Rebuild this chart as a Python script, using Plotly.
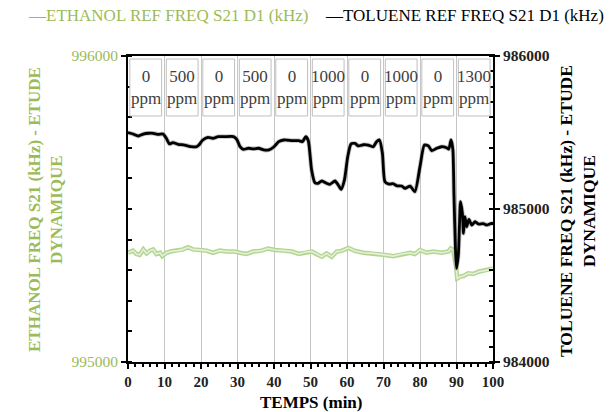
import plotly.graph_objects as go

# Concentration steps (one per 10-minute window)
conc_labels = ["0", "500", "0", "500", "0", "1000", "0", "1000", "0", "1300"]

# Toluene reference frequency S21 D1 (kHz) vs time (min)
tol_t = [0, 1.4, 2.8, 4.2, 5.6, 6.9, 8.3, 9.6, 10.5, 11.4, 12.3, 13.7, 15.5, 17.4, 18.8,
         19.4, 20.5, 21.9, 23.3, 24.7, 26.6, 28.9, 29.8, 30.7, 31.6, 33.0, 34.4, 35.8, 37.2,
         38.6, 40.0, 41.3, 42.7, 45.0, 46.8, 47.8, 48.7, 49.4, 50.3, 51.2, 52.1, 53.1, 54.4,
         55.3, 56.7, 57.6, 58.4, 59.3, 60.2, 61.1, 62.2, 63.1, 64.5, 65.8, 67.2, 68.1, 68.9,
         69.7, 70.4, 71.5, 72.7, 73.6, 75.0, 75.9, 77.3, 78.6, 80.0, 81.2, 82.3, 83.2, 84.6,
         85.9, 87.3, 87.9, 88.5, 89.0, 89.3, 89.7, 90.0, 90.5, 90.8, 91.1, 91.6, 91.9, 92.3,
         92.8, 93.4, 94.2, 95.1, 96.0, 97.3, 98.3, 99.6, 100]
tol_v = [985499, 985490, 985477, 985490, 985495, 985495, 985488, 985490, 985462, 985425,
         985434, 985423, 985418, 985407, 985407, 985418, 985451, 985468, 985462, 985473,
         985473, 985473, 985455, 985407, 985390, 985397, 985393, 985397, 985386, 985386,
         985407, 985440, 985451, 985447, 985447, 985440, 985473, 985446, 985255, 985172,
         985168, 985183, 985168, 985161, 985183, 985157, 985129, 985190, 985342, 985425,
         985429, 985412, 985420, 985418, 985407, 985440, 985451, 985364, 985178, 985163,
         985165, 985152, 985150, 985135, 985150, 985113, 985277, 985418, 985412, 985381,
         985397, 985407, 985400, 985392, 985451, 985390, 985100, 984750, 984612, 984700,
         984884, 985048, 984974, 984841, 984950, 984884, 984932, 984895, 984917, 984902,
         984905, 984895, 984906, 984905]

# Ethanol reference frequency S21 D1 (kHz) vs time (min)
eth_t = [0, 1.4, 2.3, 3.2, 4.2, 5.1, 6.0, 6.9, 7.8, 8.8, 9.4, 10.5, 11.9, 13.7, 15.1, 16.4,
         17.8, 19.6, 21.5, 23.3, 25.1, 27.0, 29.2, 30.6, 32.5, 34.3, 36.6, 38.4, 40.3, 42.6,
         44.9, 46.8, 49.0, 50.4, 51.7, 53.1, 54.4, 55.8, 57.2, 58.5, 60.4, 62.2, 64.5, 67.2,
         70.4, 72.7, 75.0, 77.3, 78.6, 80.0, 81.8, 83.6, 85.9, 87.8, 88.4, 89.1, 89.9, 90.2,
         91.0, 91.9, 93.2, 94.6, 96.0, 97.3, 98.7, 99.6, 100]
eth_v = [995357, 995364, 995353, 995350, 995368, 995355, 995364, 995368, 995353, 995357,
         995346, 995357, 995362, 995364, 995368, 995375, 995368, 995366, 995364, 995357,
         995364, 995361, 995361, 995357, 995353, 995361, 995364, 995371, 995366, 995364,
         995361, 995353, 995360, 995361, 995352, 995344, 995355, 995344, 995361, 995363,
         995373, 995363, 995357, 995355, 995350, 995346, 995353, 995357, 995353, 995366,
         995357, 995361, 995357, 995361, 995371, 995366, 995311, 995273, 995279, 995281,
         995290, 995288, 995295, 995298, 995301, 995306, 995306]

SERIF = "Liberation Serif, Times New Roman, DejaVu Serif, serif"
GREEN = "#9bbb59"

fig = go.Figure()

# Ethanol: light double-edged green line
fig.add_trace(go.Scatter(x=eth_t, y=eth_v, mode="lines", yaxis="y",
                         line=dict(color="#b4d592", width=4.5), showlegend=False,
                         hoverinfo="skip"))
fig.add_trace(go.Scatter(x=eth_t, y=eth_v, mode="lines", yaxis="y",
                         line=dict(color="#e4f0d8", width=1.6), showlegend=False))

# Toluene: black line on the secondary axis
fig.add_trace(go.Scatter(x=tol_t, y=tol_v, mode="lines", yaxis="y2",
                         line=dict(color="#8a8a8a", width=4.5, shape="spline", smoothing=0.6),
                         showlegend=False, hoverinfo="skip", opacity=0.5))
fig.add_trace(go.Scatter(x=tol_t, y=tol_v, mode="lines", yaxis="y2",
                         line=dict(color="#000000", width=2.8, shape="spline", smoothing=0.6),
                         showlegend=False))

shapes = []
annotations = []
for i, lab in enumerate(conc_labels):
    x0 = i * 10 + 0.5
    x1 = i * 10 + 9.2
    shapes.append(dict(type="rect", xref="x", yref="paper", x0=x0, x1=x1,
                       y0=0.804, y1=0.990, line=dict(color="#bfbfbf", width=1),
                       fillcolor="white", layer="above"))
    annotations.append(dict(xref="x", yref="paper", x=(x0 + x1) / 2, y=0.897,
                            text=f"{lab}<br>ppm", showarrow=False,
                            font=dict(family=SERIF, size=17, color="#404040"),
                            xanchor="center", yanchor="middle"))

# Legend entries drawn as text
annotations.append(dict(xref="paper", yref="paper", x=0, y=1, xshift=-128 + 26,
                        yshift=56 - 15, text="—ETHANOL REF FREQ S21 D1 (kHz)",
                        showarrow=False, xanchor="left", yanchor="middle",
                        font=dict(family=SERIF, size=17, color=GREEN)))
annotations.append(dict(xref="paper", yref="paper", x=1, y=1, xshift=117 - 4,
                        yshift=56 - 15, text="—TOLUENE REF FREQ S21 D1 (kHz)",
                        showarrow=False, xanchor="right", yanchor="middle",
                        font=dict(family=SERIF, size=17, color="#000000")))

# Axis titles
annotations.append(dict(xref="paper", yref="paper", x=0, y=0.5, xshift=-83, yshift=-1,
                        text="<b>ETHANOL FREQ S21 (kHz) - ETUDE<br>DYNAMIQUE</b>",
                        textangle=-90, showarrow=False, xanchor="center", yanchor="middle",
                        font=dict(family=SERIF, size=17, color=GREEN)))
annotations.append(dict(xref="paper", yref="paper", x=1, y=0.5, xshift=84, yshift=-2,
                        text="<b>TOLUENE FREQ S21 (kHz) - ETUDE<br>DYNAMIQUE</b>",
                        textangle=-90, showarrow=False, xanchor="center", yanchor="middle",
                        font=dict(family=SERIF, size=17.5, color="#000000")))
annotations.append(dict(xref="paper", yref="paper", x=0.5, y=0, yshift=-40,
                        text="<b>TEMPS (min)</b>", showarrow=False,
                        xanchor="center", yanchor="middle",
                        font=dict(family=SERIF, size=17, color="#000000")))

fig.update_layout(
    width=610, height=412,
    margin=dict(l=128, r=117, t=56, b=50),
    paper_bgcolor="white", plot_bgcolor="white",
    showlegend=False,
    shapes=shapes, annotations=annotations,
    xaxis=dict(range=[0, 100], dtick=10, tick0=0, showgrid=True, gridcolor="#c6c6c6",
               gridwidth=1, zeroline=False, showline=True, linecolor="black", linewidth=2,
               mirror=True, ticks="outside", ticklen=5, tickwidth=1.5, tickcolor="black",
               tickfont=dict(family=SERIF, size=15, color="#222222", weight="bold"),
               minor=dict(dtick=2, ticks="outside", ticklen=3, tickcolor="black",
                          showgrid=False)),
    yaxis=dict(range=[995000, 996000], dtick=1000, tick0=995000, tickformat="d",
               showgrid=False, zeroline=False, showline=True, linecolor="black",
               linewidth=2, ticks="outside", ticklen=5, tickwidth=1.5, tickcolor="black",
               tickfont=dict(family=SERIF, size=15.5, color=GREEN),
               minor=dict(dtick=100, ticks="inside", ticklen=4, tickcolor="black",
                          showgrid=False)),
    yaxis2=dict(range=[984000, 986000], dtick=1000, tick0=984000, tickformat="d",
                overlaying="y", side="right", showgrid=False, zeroline=False,
                showline=True, linecolor="black", linewidth=2, ticks="outside", ticklen=5,
                tickwidth=1.5, tickcolor="black",
                tickfont=dict(family=SERIF, size=15.5, color="#222222", weight="bold"),
                minor=dict(dtick=100, ticks="inside", ticklen=4, tickcolor="black",
                           showgrid=False)),
)

fig.write_html("out.html")
